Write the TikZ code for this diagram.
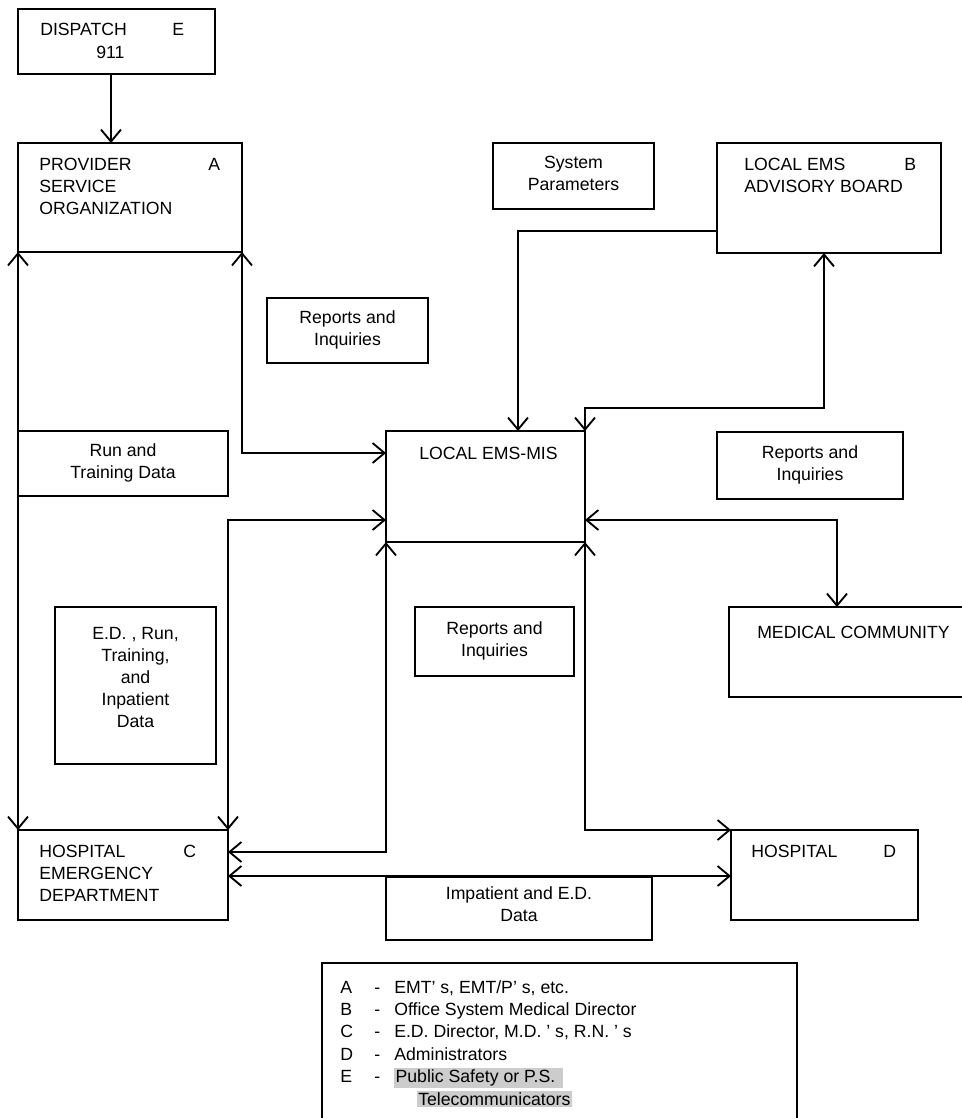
\documentclass[tikz,border=0pt]{standalone}
\usepackage{fontspec}
\setmainfont{Liberation Sans}
\usetikzlibrary{arrows.meta, calc, fit}
\definecolor{hilite}{gray}{0.8}
\newcommand\boxtext[2][-10.5pt]{\raisebox{#1}{\begin{tabular}[t]{@{}c@{}}#2\end{tabular}}}

\tikzset{
  box/.style={draw, line width=1.4pt, inner sep=0pt, outer sep=0pt, align=center,
    font=\fontsize{13.25}{16.5}\selectfont},
  txt/.style={inner sep=0pt, anchor=north west, align=left,
    font=\fontsize{13.25}{16.5}\selectfont},
  flow/.style={line width=1.4pt, -{Straight Barb[length=9pt,width=15pt]}},
  flows/.style={line width=1.4pt,
    {Straight Barb[length=9pt,width=15pt]}-{Straight Barb[length=9pt,width=15pt]}},
}

\begin{document}
\begin{tikzpicture}[x=0.75pt,y=-0.75pt]
    \useasboundingbox (0,0) rectangle (962,1118);
    \node[box, fit={(18,9) (215,74)}] (disp) {};
    \node[box, fit={(18,143) (242,252)}] (prov) {};
    \node[box, fit={(493,143) (654,209)}] (param) {\boxtext{System\\Parameters}};
    \node[box, fit={(717,143) (941,253)}] (adv) {};
    \node[box, fit={(267,298) (428,363)}] (rep1) {\boxtext{Reports and\\Inquiries}};
    \node[box, fit={(18,431) (228,496)}] (run) {\boxtext{Run and\\Training Data}};
    \node[box, fit={(386,431) (585,542)}] (mis) {};
    \node[box, fit={(717,432) (903,499)}] (rep2) {\boxtext{Reports and\\Inquiries}};
    \node[box, fit={(55,607) (216,764)}] (edrun) {\boxtext[-1.5pt]{E.D. , Run,\\Training,\\and\\Inpatient\\Data}};
    \node[box, fit={(415,607) (574,676)}] (rep3) {\boxtext{Reports and\\Inquiries}};
    \node[box, fit={(729,607) (980,697)}] (medc) {};
    \node[box, fit={(18,830) (228,920)}] (hospc) {};
    \node[box, fit={(731,830) (918,920)}] (hospd) {};
    \node[box, fit={(386,877) (652,940)}] (impat) {\boxtext[-8pt]{Impatient and E.D.\\Data}};
    \node[box, fit={(322,963) (797,1140)}] (legend) {};

    \node[txt] (dispT) at (40,23) {DISPATCH};
    \node[txt] (dispE) at (172,23) {E};
    \node[txt] (dispN) at (96,46) {911};
    \node[txt] (provT) at (39,158) {PROVIDER\\SERVICE\\ORGANIZATION};
    \node[txt] (provA) at (208,158) {A};
    \node[txt] (advT) at (744,158) {LOCAL EMS\\ADVISORY BOARD};
    \node[txt] (advB) at (904,158) {B};
    \node[txt] (misT) at (419,447) {LOCAL EMS-MIS};
    \node[txt] (medcT) at (757,626) {MEDICAL COMMUNITY};
    \node[txt] (hospcT) at (39,845) {HOSPITAL\\EMERGENCY\\DEPARTMENT};
    \node[txt] (hospcC) at (183,845) {C};
    \node[txt] (hospdT) at (751,845) {HOSPITAL};
    \node[txt] (hospdD) at (883,845) {D};
    \node[inner sep=0pt, anchor=base west, font=\fontsize{13.25}{16.8}\selectfont] (legendT) at (340,993) {%
      \setlength{\fboxsep}{1pt}%
      \begin{tabular}[t]{@{}p{25.5pt}@{}p{15pt}@{}l@{}}
        A & - & EMT’ s, EMT/P’ s, etc.\\
        B & - & Office System Medical Director\\
        C & - & E.D. Director, M.D. ’ s, R.N. ’ s\\
        D & - & Administrators\\
        E & - & \colorbox{hilite}{Public Safety or P.S.\hspace{5pt}}\\
          &   & \hspace*{17pt}\colorbox{hilite}{Telecommunicators}
      \end{tabular}};

    \draw[flow] ($(disp.south west)+(93,0)$) -- ($(prov.north west)+(93,0)$);
    \draw[flows] (prov.south west) -- (hospc.north west);
    \draw[flows] (prov.south east) |- ($(mis.north west)+(0,22)$);
    \draw[flows] ($(mis.north west)+(0,89)$) -| (hospc.north east);
    \draw[flows] (mis.south west) |- ($(hospc.north east)+(0,22)$);
    \draw[flows] ($(hospc.north east)+(0,46)$) -- ($(hospd.north west)+(0,46)$);
    \draw[flows] (mis.south east) |- (hospd.north west);
    \draw[flows] ($(mis.north east)+(0,89)$) -| ($(medc.north west)+(108,0)$);
    \draw[flow] ($(adv.north west)+(0,88)$) -| ($(mis.north west)+(132,0)$);
    \draw[flows] ($(adv.south west)+(107,0)$) |- ($(mis.north east)+(0,-23)$) -- (mis.north east);
\end{tikzpicture}
\end{document}
